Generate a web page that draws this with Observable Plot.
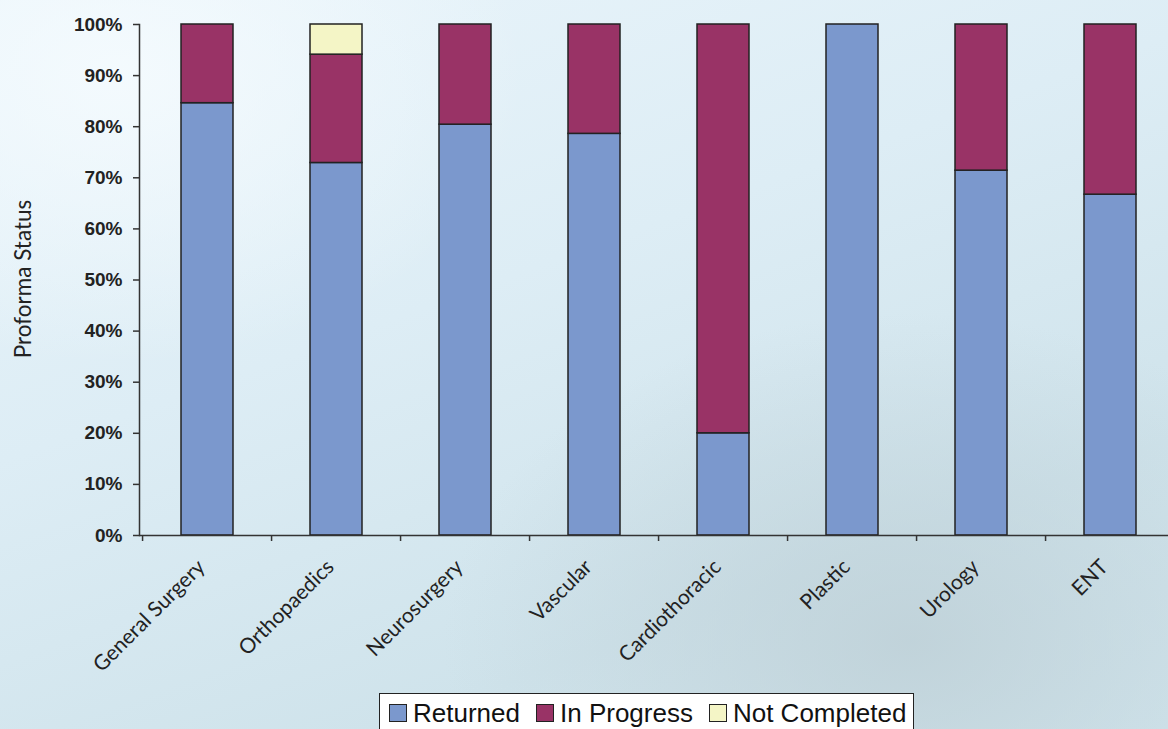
<!DOCTYPE html>
<html>
<head>
<meta charset="utf-8">
<script src="https://cdn.jsdelivr.net/npm/d3@7"></script>
<script src="https://cdn.jsdelivr.net/npm/@observablehq/plot@0.6"></script>
<style>
  html, body { margin: 0; padding: 0; width: 1168px; height: 729px; overflow: hidden; }
  body {
    position: relative;
    background:
      radial-gradient(ellipse 40% 45% at 78% 88%, rgba(190,208,215,0.85) 0%, rgba(190,208,215,0) 100%),
      radial-gradient(ellipse 35% 40% at 10% 10%, rgba(245,251,254,0.9) 0%, rgba(245,251,254,0) 100%),
      linear-gradient(160deg, #eaf5fb 0%, #ddedf5 40%, #cfe3eb 75%, #d3e7ef 100%);
    font-family: "Liberation Sans", Arial, sans-serif;
  }
  #chart { position: absolute; left: 0; top: 0; }
  #ytitle {
    position: absolute; left: 22px; top: 279px;
    transform: translate(-50%, -50%) rotate(-90deg);
    font-family: Lato, "Open Sans", sans-serif; font-size: 22.5px; color: #222; white-space: nowrap;
  }
  #legend {
    position: absolute; left: 379px; top: 693px; width: 535px; height: 50px;
    background: #fff; border: 1px solid #222; box-sizing: border-box;
    display: flex; align-items: flex-start; padding: 4px 0 0 9px;
    font-size: 26px; color: #111; line-height: 30px; white-space: nowrap;
  }
  #legend .item { display: flex; align-items: center; margin-right: 16px; flex-shrink: 0; }
  #legend .sw { width: 18px; height: 18px; border: 1px solid #222; box-sizing: border-box; margin-right: 6px; }
</style>
</head>
<body>
<div id="chart"></div>
<div id="ytitle">Proforma Status</div>
<div id="legend"></div>
<script>
// Surgical specialties and the share of proformas in each status
const specialties = ["General Surgery", "Orthopaedics", "Neurosurgery", "Vascular", "Cardiothoracic", "Plastic", "Urology", "ENT"];
const statuses = ["Returned", "In Progress", "Not Completed"];
const statusColors = ["#7b98cd", "#993366", "#f4f5c6"];

const returned     = [0.846, 0.729, 0.804, 0.786, 0.200, 1.000, 0.714, 0.667];
const inProgress   = [0.154, 0.212, 0.196, 0.214, 0.800, 0.000, 0.286, 0.333];
const notCompleted = [0.000, 0.059, 0.000, 0.000, 0.000, 0.000, 0.000, 0.000];

const yTicks = [0, 0.1, 0.2, 0.3, 0.4, 0.5, 0.6, 0.7, 0.8, 0.9, 1];

// long-form table for stacking
const series = [returned, inProgress, notCompleted];
const rows = [];
specialties.forEach((s, i) => {
  statuses.forEach((st, j) => rows.push({specialty: s, status: st, value: series[j][i]}));
});

const xRange = [139, 1178];
const step = (xRange[1] - xRange[0]) / specialties.length;

const chart = Plot.plot({
  width: 1168,
  height: 690,
  marginTop: 24,
  marginBottom: 155,
  marginLeft: 139,
  marginRight: 0,
  style: {background: "transparent", fontFamily: "'Liberation Sans', Arial, sans-serif", color: "#222"},
  x: {domain: specialties, range: xRange, paddingInner: 0.6, paddingOuter: 0.3, axis: null},
  y: {domain: [0, 1], axis: null},
  color: {domain: statuses, range: statusColors},
  marks: [
    Plot.barY(rows, {x: "specialty", y: "value", fill: "status", stroke: "#222", strokeWidth: 1.5}),
    Plot.frame({anchor: "left", stroke: "#333", strokeWidth: 1.5}),
    Plot.ruleY([0], {stroke: "#333", strokeWidth: 1.5}),
    Plot.axisY({ticks: yTicks, tickFormat: d3.format(".0%"), tickSize: 6, tickPadding: 11,
      fontSize: 19, fontWeight: "bold", stroke: "#333", strokeWidth: 1.5, label: null}),
    // category boundary ticks below the x axis
    Plot.axisX({tickSize: 6, tickFormat: () => "", dx: -step / 2, stroke: "#333", strokeWidth: 1.5, label: null}),
    Plot.axisX({tickSize: 0, tickPadding: 28, tickRotate: -45, dx: -6, textAnchor: "end", lineAnchor: "middle",
      fontSize: 21, fontFamily: "Lato, 'Open Sans', sans-serif", label: null})
  ]
});
document.getElementById("chart").appendChild(chart);

// legend
const legend = d3.select("#legend");
statuses.forEach((st, j) => {
  const item = legend.append("div").attr("class", "item");
  item.append("div").attr("class", "sw").style("background", statusColors[j]);
  item.append("span").text(st);
});
</script>
</body>
</html>
